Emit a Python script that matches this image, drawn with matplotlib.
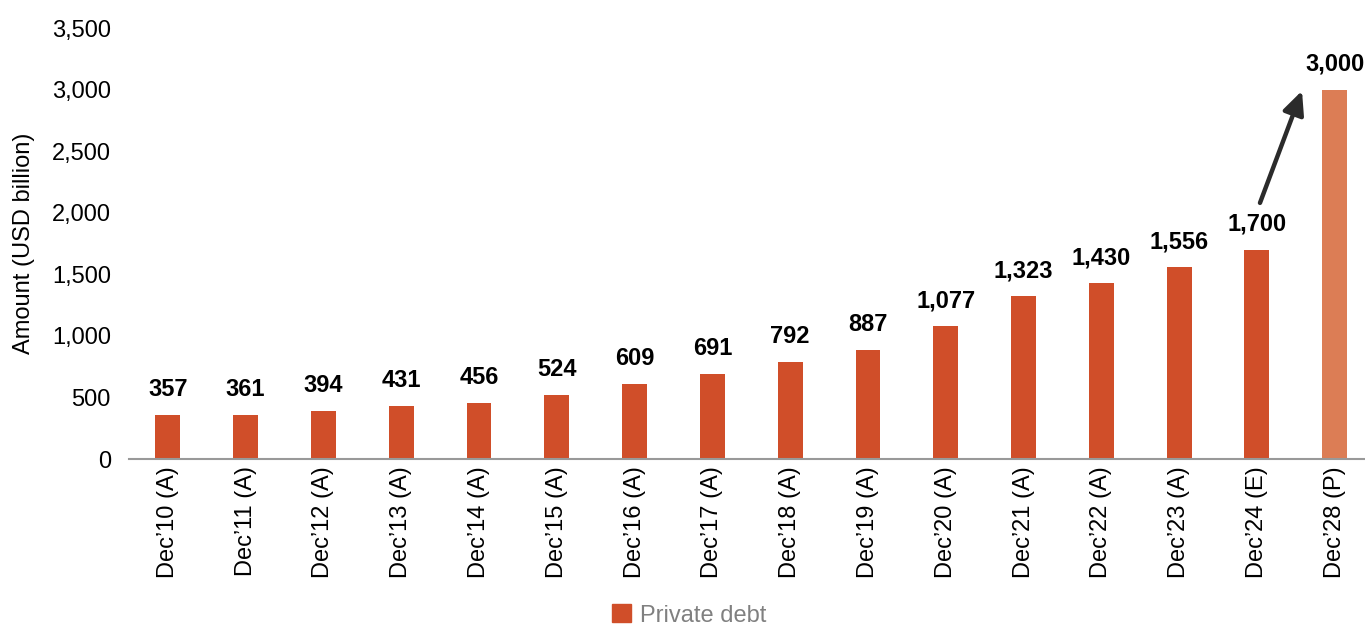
import matplotlib
matplotlib.use('Agg')
from matplotlib import pyplot as plt
from matplotlib.patches import Patch

plt.rcParams['font.family'] = ['Liberation Sans', 'DejaVu Sans']

periods = ["Dec\u201910 (A)", "Dec\u201911 (A)", "Dec\u201912 (A)", "Dec\u201913 (A)",
           "Dec\u201914 (A)", "Dec\u201915 (A)", "Dec\u201916 (A)", "Dec\u201917 (A)",
           "Dec\u201918 (A)", "Dec\u201919 (A)", "Dec\u201920 (A)", "Dec\u201921 (A)",
           "Dec\u201922 (A)", "Dec\u201923 (A)", "Dec\u201924 (E)", "Dec\u201928 (P)"]
amounts = [357, 361, 394, 431, 456, 524, 609, 691, 792, 887,
           1077, 1323, 1430, 1556, 1700, 3000]
y_ticks = [0, 500, 1000, 1500, 2000, 2500, 3000, 3500]

dark = '#D04E29'
light = '#DC7D55'
colors = [dark] * (len(amounts) - 1) + [light]

fig = plt.figure(figsize=(13.65, 6.28), dpi=100)
ax = fig.add_axes([0.0945, 0.269, 0.9055, 0.6864])

x = list(range(len(amounts)))
ax.bar(x, amounts, width=0.32, color=colors, zorder=2)

for xi, v in zip(x, amounts):
    ax.annotate(f'{v:,}', (xi, v), xytext=(0, 10), textcoords='offset points',
                ha='center', va='bottom', fontsize=17, fontweight='bold')

# growth arrow from the 2024 estimate to the 2028 projection
ax.annotate('', xy=(x[-1] - 0.42, amounts[-1] - 10),
            xytext=(x[-2] + 0.04, amounts[-2] + 380),
            arrowprops=dict(arrowstyle='-|>,head_length=1.4,head_width=0.65',
                            color='#2b2b2b', lw=3.2, shrinkA=0, shrinkB=0))

ax.set_xlim(-0.5, 15.39)
ax.set_ylim(0, 3500)
ax.set_yticks(y_ticks)
ax.set_yticklabels([f'{t:,}' for t in y_ticks], fontsize=17)
ax.set_xticks(x)
ax.set_xticklabels(periods, rotation=90, fontsize=17)
ax.tick_params(axis='both', length=0)
ax.tick_params(axis='y', pad=13)
ax.tick_params(axis='x', pad=5)
ax.set_ylabel('Amount (USD billion)', fontsize=17, labelpad=12)

for s in ['top', 'right', 'left']:
    ax.spines[s].set_visible(False)
ax.spines['bottom'].set_color('#999999')
ax.spines['bottom'].set_linewidth(1.5)

handles = [Patch(color=dark, label='Private debt')]
leg = fig.legend(handles=handles, loc='center', bbox_to_anchor=(0.505, 0.02),
                 frameon=False, fontsize=17, handlelength=0.8, handleheight=0.8,
                 handletextpad=0.4, borderpad=0.2)
for t in leg.get_texts():
    t.set_color('#808080')

fig.savefig('out.png', dpi=100)
